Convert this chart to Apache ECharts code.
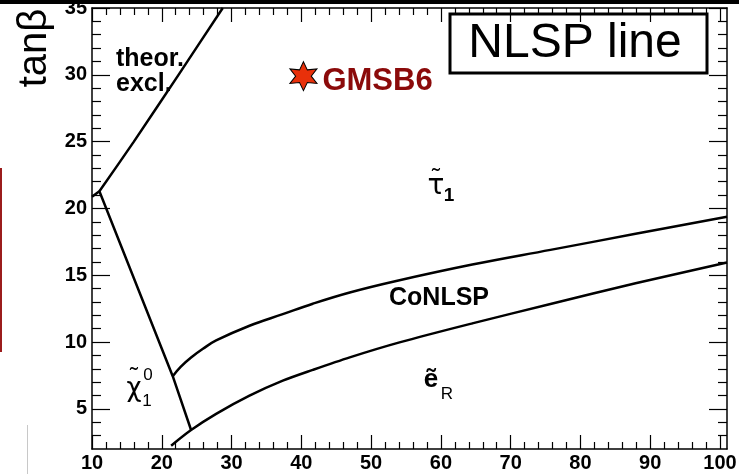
<!DOCTYPE html>
<html>
<head>
<meta charset="utf-8">
<script src="https://cdn.jsdelivr.net/npm/echarts@6/dist/echarts.min.js"></script>
<style>
  html, body { margin: 0; padding: 0; background: #fff; }
  #chart { width: 739px; height: 474px; }
</style>
</head>
<body>
<div id="chart"></div>
<script>
// Boundaries of the NLSP regions in the (Lambda, tan beta) plane
const theorExcl = [[11.06, 21.29], [16.0, 25.0], [22.4, 30.0], [28.74, 35.0]];
const neutralinoEdge = [[10, 20.87], [11.06, 21.29], [21.57, 7.45], [24.2, 3.42]];
const stauEdge = [[21.57, 7.45], [22.7, 8.15], [24.2, 8.85], [25.9, 9.5], [27.79, 10.12], [32.57, 11.22], [37.34, 12.09], [41.64, 12.87], [46.94, 13.71], [53.6, 14.57], [64.5, 15.8], [75.7, 16.9], [87.9, 18.1], [101, 19.38]];
const selectronEdge = [[21.34, 2.25], [24.2, 3.42], [27.79, 4.63], [32.57, 5.99], [37.34, 7.11], [41.64, 7.92], [46.94, 8.86], [54.07, 9.98], [64.5, 11.4], [75.7, 12.85], [87.9, 14.4], [101, 15.95]];
const benchmark = [{ name: 'GMSB6', value: [40.3, 29.9] }];

// Axis ranges and tick positions
const xRange = [10, 101];
const yRange = [2, 35];
const xMajorTicks = [10, 20, 30, 40, 50, 60, 70, 80, 90, 100];
const xMinorTicks = [12, 14, 16, 18, 22, 24, 26, 28, 32, 34, 36, 38, 42, 44, 46, 48, 52, 54, 56, 58, 62, 64, 66, 68, 72, 74, 76, 78, 82, 84, 86, 88, 92, 94, 96, 98];
const yMajorTicks = [5, 10, 15, 20, 25, 30, 35];
const yMinorTicks = [3, 4, 6, 7, 8, 9, 11, 12, 13, 14, 16, 17, 18, 19, 21, 22, 23, 24, 26, 27, 28, 29, 31, 32, 33, 34];

const FONT = '"Liberation Sans", Arial, Helvetica, sans-serif';
const GREEK = '"DejaVu Sans", sans-serif';
const starPath = 'path://M0 -10 L2.5 -4.33 L8.66 -5 L5 0 L8.66 5 L2.5 4.33 L0 10 L-2.5 4.33 L-8.66 5 L-5 0 L-8.66 -5 L-2.5 -4.33 Z';

const frameLine = { show: true, lineStyle: { color: '#000', width: 1.5 } };
const tickStyle = { color: '#000', width: 1.2 };
const tickLabel = { fontFamily: FONT, fontWeight: 'bold', fontSize: 20, color: '#000' };

function axisOf(kind, pos, range, ticks, len, showLabels, showLine) {
  return {
    type: 'value', position: pos, min: range[0], max: range[1],
    axisLine: showLine ? frameLine : { show: false },
    axisTick: { show: true, inside: true, length: len, lineStyle: tickStyle, customValues: ticks },
    axisLabel: showLabels
      ? Object.assign({ show: true, margin: kind === 'x' ? 4 : 5, customValues: ticks }, tickLabel)
      : { show: false },
    splitLine: { show: false }
  };
}

function boundary(data, smooth) {
  return {
    type: 'line', data: data, xAxisIndex: 0, yAxisIndex: 0,
    smooth: smooth, symbol: 'none', silent: true,
    lineStyle: { color: '#000', width: 2.5 }
  };
}

function txt(text, x, y, opts) {
  return {
    type: 'text', x: x, y: y, silent: true,
    style: Object.assign({ text: text, font: 'bold 25px ' + FONT, fill: '#000', align: 'left', verticalAlign: 'middle' }, opts || {})
  };
}

const chart = echarts.init(document.getElementById('chart'), null, { renderer: 'canvas' });
chart.setOption({
  animation: false,
  backgroundColor: '#fff',
  grid: { left: 92, right: 12, top: 8, bottom: 25, containLabel: false, outerBoundsMode: 'none' },
  xAxis: [
    axisOf('x', 'bottom', xRange, xMajorTicks, 14, true, true),
    axisOf('x', 'bottom', xRange, xMinorTicks, 7, false, false),
    axisOf('x', 'top', xRange, xMajorTicks, 14, false, true),
    axisOf('x', 'top', xRange, xMinorTicks, 7, false, false)
  ],
  yAxis: [
    axisOf('y', 'left', yRange, yMajorTicks, 18, true, true),
    axisOf('y', 'left', yRange, yMinorTicks, 9, false, false),
    axisOf('y', 'right', yRange, yMajorTicks, 18, false, true),
    axisOf('y', 'right', yRange, yMinorTicks, 9, false, false)
  ],
  series: [
    boundary(neutralinoEdge, false),
    boundary(theorExcl, 0.2),
    boundary(stauEdge, 0.4),
    boundary(selectronEdge, 0.3),
    {
      type: 'scatter', data: benchmark, xAxisIndex: 0, yAxisIndex: 0, silent: true,
      symbol: starPath, symbolSize: [27, 29],
      itemStyle: { color: '#e8300a', borderColor: '#000', borderWidth: 1, opacity: 1 },
      label: {
        show: true, position: 'right', distance: 5, formatter: '{b}',
        fontFamily: FONT, fontWeight: 'bold', fontSize: 31, color: '#8b0a0a', offset: [0, 5]
      }
    }
  ],
  graphic: [
    // page trim
    { type: 'rect', shape: { x: 0, y: 0, width: 739, height: 4 }, style: { fill: '#000' }, silent: true },
    { type: 'line', shape: { x1: 1, y1: 168, x2: 1, y2: 352 }, style: { stroke: '#9b1c1c', lineWidth: 2 }, silent: true },
    { type: 'line', shape: { x1: 27.5, y1: 425, x2: 27.5, y2: 474 }, style: { stroke: '#c8c8c8', lineWidth: 1 }, silent: true },
    // axis title
    { type: 'text', x: 35, y: 48, rotation: Math.PI / 2, silent: true,
      style: { text: 'tanβ', font: '40px ' + FONT, fill: '#000', align: 'center', verticalAlign: 'middle' } },
    // panel title
    { type: 'rect', shape: { x: 450, y: 14, width: 257, height: 59 }, style: { fill: '#fff', stroke: '#000', lineWidth: 3 }, silent: true },
    txt('NLSP line', 575, 44, { font: '48px ' + FONT, align: 'center' }),
    // region labels
    txt('theor.', 116, 59),
    txt('excl.', 116, 84),
    txt('CoNLSP', 439, 298, { align: 'center' }),
    txt('τ', 436, 187, { font: '28px ' + GREEK, align: 'center' }),
    txt('\u02DC', 436, 178, { font: '24px ' + FONT, align: 'center' }),
    txt('1', 449, 196, { font: 'bold 19px ' + FONT, align: 'center' }),
    txt('ẽ', 431, 380, { font: 'bold 26px ' + FONT, align: 'center' }),
    txt('R', 447, 394, { font: '17px ' + FONT, align: 'center' }),
    txt('χ', 134, 389, { font: '26px ' + GREEK, align: 'center' }),
    txt('\u02DC', 134, 377, { font: '24px ' + FONT, align: 'center' }),
    txt('0', 148, 375, { font: '17px ' + FONT, align: 'center' }),
    txt('1', 147, 401, { font: '17px ' + FONT, align: 'center' })
  ]
});
</script>
</body>
</html>
